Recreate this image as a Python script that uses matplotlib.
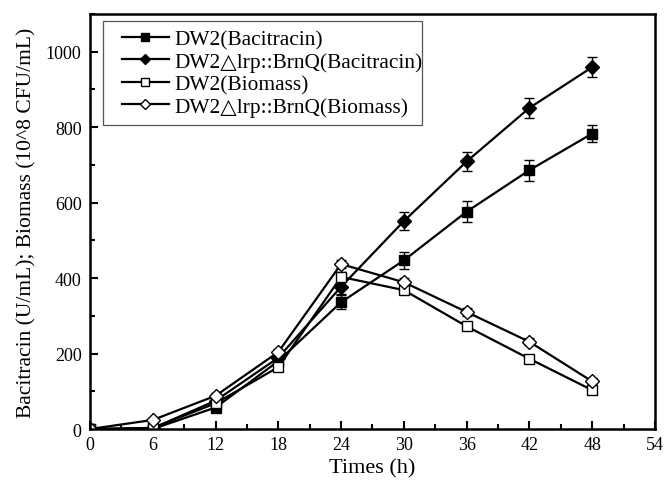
import numpy as np
import matplotlib
matplotlib.use('Agg')
import matplotlib.pyplot as plt
from matplotlib.ticker import MultipleLocator
from matplotlib.patches import Rectangle

plt.rcParams['font.family'] = ['Liberation Serif', 'DejaVu Serif']

times = [0, 6, 12, 18, 24, 30, 36, 42, 48]

dw2_bac = [0, 0, 57, 180, 336, 447, 576, 686, 783]
dw2_bac_err = [0, 0, 6, 10, 18, 23, 27, 28, 22]
lrp_bac = [0, 2, 75, 189, 377, 551, 709, 851, 959]
lrp_bac_err = [0, 0, 6, 10, 18, 24, 25, 26, 26]
dw2_bio = [0, 3, 68, 164, 403, 368, 272, 186, 103]
dw2_bio_err = [0, 2, 6, 8, 12, 10, 9, 8, 7]
lrp_bio = [0, 24, 88, 204, 437, 389, 310, 231, 126]
lrp_bio_err = [0, 4, 8, 8, 10, 10, 10, 9, 8]

series = [
    ('DW2(Bacitracin)', dw2_bac, dw2_bac_err, 's', 'black'),
    ('DW2\u25b3lrp::BrnQ(Bacitracin)', lrp_bac, lrp_bac_err, 'D', 'black'),
    ('DW2(Biomass)', dw2_bio, dw2_bio_err, 's', 'white'),
    ('DW2\u25b3lrp::BrnQ(Biomass)', lrp_bio, lrp_bio_err, 'D', 'white'),
]

fig = plt.figure(figsize=(6.65, 4.81), dpi=100)
ax = fig.add_axes([0.1353, 0.106, 0.8497, 0.863])

for label, vals, err, mk, fc in series:
    ax.errorbar(times, vals, yerr=err, color='black', lw=1.6, marker=mk,
                markersize=7, markerfacecolor=fc, markeredgecolor='black',
                markeredgewidth=1.0, capsize=3.5, elinewidth=1.0, capthick=1.0,
                label=label)

ax.set_xlim(0, 54)
ax.set_ylim(0, 1100)
ax.xaxis.set_major_locator(MultipleLocator(6))
ax.xaxis.set_minor_locator(MultipleLocator(3))
ax.yaxis.set_major_locator(MultipleLocator(200))
ax.yaxis.set_minor_locator(MultipleLocator(100))
ax.tick_params(which='major', direction='in', length=6, width=1.5, labelsize=13)
ax.tick_params(axis='y', which='major', pad=6)
ax.tick_params(axis='x', which='major', pad=5)
ax.tick_params(which='minor', direction='in', length=3.5, width=1.5)
ax.tick_params(top=False, right=False)
for sp in ax.spines.values():
    sp.set_linewidth(1.8)
ax.set_yticks([0, 200, 400, 600, 800, 1000])

ax.set_xlabel('Times (h)', fontsize=16, labelpad=4)
ax.set_ylabel('Bacitracin (U/mL); Biomass (10^8 CFU/mL)', fontsize=15.5, labelpad=7)

# Origin-style legend box
ax.add_patch(Rectangle((0.023, 0.733), 0.565, 0.25, transform=ax.transAxes,
                       facecolor='white', edgecolor='#555555', lw=0.9, zorder=4))

handles, labels = ax.get_legend_handles_labels()
handles = [h[0] for h in handles]
leg = ax.legend(handles, labels, loc='upper left', bbox_to_anchor=(0.056, 0.963),
                fontsize=15.4, frameon=False, borderpad=0,
                labelspacing=0.12, handlelength=2.2, handletextpad=0.25,
                borderaxespad=0, markerscale=0.8)
leg.set_zorder(5)

fig.savefig('out.png', dpi=100)
